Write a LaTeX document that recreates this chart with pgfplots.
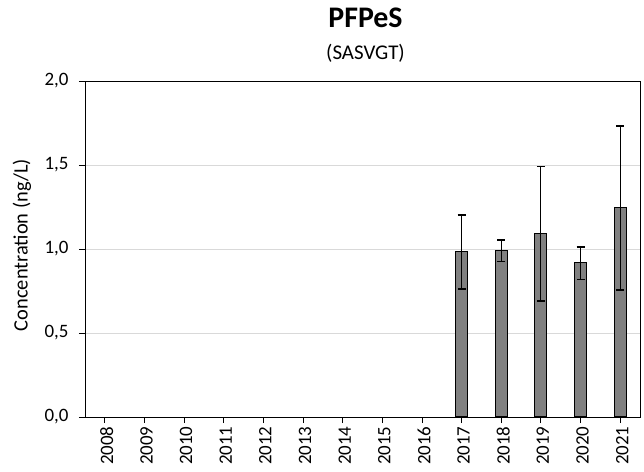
\documentclass[border=0pt]{standalone}
\usepackage{fontspec}
\setmainfont{Carlito}
\usepackage{pgfplots}
\pgfplotsset{compat=1.18}
\pgfplotstableread{
x y ep em
9 0.985 0.217 0.223
10 0.990 0.064 0.066
11 1.090 0.400 0.400
12 0.918 0.094 0.101
13 1.248 0.484 0.492
}\datatable
\begin{document}
\begin{tikzpicture}
\begin{axis}[name=ax,
  width=555bp, height=336bp, scale only axis,
  xmin=-0.5, xmax=13.5, ymin=0, ymax=2,
  xtick={0,...,13},
  xticklabels={2008,2009,2010,2011,2012,2013,2014,2015,2016,2017,2018,2019,2020,2021},
  ytick={0,0.5,1,1.5,2},
  /pgf/number format/assume math mode=true,
  tick label style={font=\fontsize{19}{22}\selectfont, black},
  yticklabel style={xshift=-7bp, /pgf/number format/.cd, fixed, fixed zerofill, precision=1, use comma},
  x tick label style={rotate=90, anchor=east, yshift=-2bp},
  tick align=outside, tick pos=left,
  major tick length=6bp,
  tick style={black, line width=0.9pt},
  axis line style={black, line width=0.9pt},
  ymajorgrids, grid style={draw=black!15, line width=0.8pt},
  ylabel={Concentration (ng/L)},
  ylabel style={font=\fontsize{20.5}{24}\selectfont, at={(axis description cs:-0.1135,0.512)}, anchor=center},
]
\addplot[ybar, bar width=12bp, fill=black!50, draw=black, line width=1.1pt,
  error bars/.cd, y dir=both, y explicit,
  error bar style={black, line width=1.2pt},
  error mark options={rotate=90, mark size=4bp, black, line width=1.2pt}]
  table[x=x, y=y, y error plus=ep, y error minus=em] {\datatable};
\end{axis}
\node[font=\bfseries\fontsize{30}{34}\selectfont, anchor=base] at ([xshift=3bp,yshift=53bp]ax.north) {PFPeS};
\node[font=\fontsize{21}{24}\selectfont, anchor=base] at ([xshift=3bp,yshift=21bp]ax.north) {(SASVGT)};
\path ([shift={(-85bp,-55bp)}]ax.south west) rectangle ([shift={(4bp,81bp)}]ax.north east);
\end{tikzpicture}
\end{document}
